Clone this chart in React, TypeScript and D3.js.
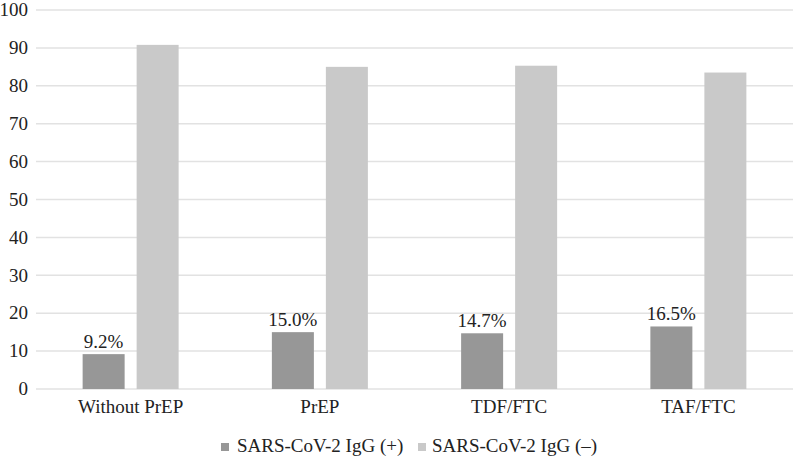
import React from "react";
import * as d3 from "d3";

const categories = ["Without PrEP", "PrEP", "TDF/FTC", "TAF/FTC"];
const positiveValues = [9.2, 15.0, 14.7, 16.5];
const negativeValues = [90.8, 85.0, 85.3, 83.5];
const positiveLabels = ["9.2%", "15.0%", "14.7%", "16.5%"];
const seriesNames = ["SARS-CoV-2 IgG (+)", "SARS-CoV-2 IgG (–)"];
const yTicks = [0, 10, 20, 30, 40, 50, 60, 70, 80, 90, 100];

const W = 795;
const H = 458;
const colors = ["#979797", "#c9c9c9"];
const font = '"Liberation Serif"';

export default function App() {
  const left = 36, right = 793, top = 10, bottom = 389;
  const x = d3.scaleBand<string>().domain(categories).range([left, right]);
  const y = d3.scaleLinear().domain([0, 100]).range([bottom, top]);
  const barW = 42;
  const gap = 12;
  const series = [positiveValues, negativeValues];
  const ts = { fontFamily: font };

  return (
    <svg width={W} height={H} style={{ position: "absolute", left: 0, top: 0, background: "#fff" }}>
      {yTicks.map((t) => (
        <g key={t}>
          <line x1={left} x2={right} y1={y(t)} y2={y(t)} stroke="#e2e2e2" strokeWidth={1.5} />
          <text x={28} y={y(t)} dy="0.33em" textAnchor="end" fontSize={19} fill="#222" style={ts}>{t}</text>
        </g>
      ))}
      {categories.map((c, i) => {
        const cx = x(c)! + x.bandwidth() / 2;
        return (
          <g key={c}>
            {series.map((vals, s) => {
              const bx = s === 0 ? cx - gap / 2 - barW : cx + gap / 2;
              return (
                <rect key={s} x={bx} y={y(vals[i])} width={barW} height={bottom - y(vals[i])} fill={colors[s]} />
              );
            })}
            <text x={cx - gap / 2 - barW / 2} y={y(positiveValues[i]) - 6} textAnchor="middle" fontSize={19} fill="#222" style={ts}>
              {positiveLabels[i]}
            </text>
            <text x={cx} y={413} textAnchor="middle" fontSize={19} fill="#222" style={ts}>{c}</text>
          </g>
        );
      })}
      <g>
        <rect x={221} y={443} width={8} height={8} fill={colors[0]} />
        <text x={237} y={452} fontSize={19} fill="#222" style={ts}>{seriesNames[0]}</text>
        <rect x={418} y={443} width={8} height={8} fill={colors[1]} />
        <text x={432} y={452} fontSize={19} fill="#222" style={ts}>{seriesNames[1]}</text>
      </g>
    </svg>
  );
}
